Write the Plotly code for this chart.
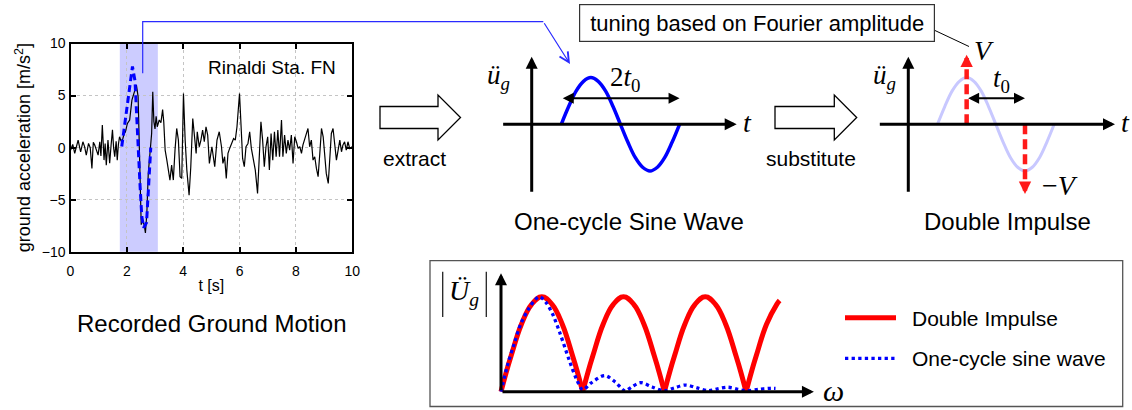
import plotly.graph_objects as go

W, H = 1132, 410
SANS = "Liberation Sans, Arial, Helvetica, sans-serif"
SERIF = "Liberation Serif, Times New Roman, serif"

# ---------------- data ----------------
# Rinaldi station, fault-normal component: time [s], ground acceleration [m/s^2]
rec_t = [0.00, 0.08, 0.15, 0.27, 0.36, 0.44, 0.50, 0.56, 0.64, 0.70, 0.76, 0.81, 0.86, 0.92, 0.98,
         1.04, 1.08, 1.13, 1.19, 1.23, 1.27, 1.33, 1.39, 1.44, 1.49, 1.53, 1.57, 1.62, 1.66, 1.70,
         1.74, 1.80, 1.86, 1.90, 1.95, 2.02, 2.10, 2.18, 2.25, 2.30, 2.34, 2.40, 2.46, 2.51, 2.57,
         2.62, 2.66, 2.71, 2.76, 2.82, 2.88, 2.92, 2.96, 3.00, 3.04, 3.08, 3.15, 3.21, 3.27, 3.31,
         3.36, 3.42, 3.47, 3.53, 3.59, 3.65, 3.71, 3.77, 3.83, 3.89, 3.95, 4.01, 4.07, 4.13, 4.21,
         4.27, 4.34, 4.40, 4.46, 4.50, 4.57, 4.63, 4.69, 4.75, 4.81, 4.87, 4.93, 4.97, 5.02, 5.12,
         5.20, 5.28, 5.36, 5.41, 5.47, 5.53, 5.59, 5.65, 5.71, 5.79, 5.85, 5.91, 6.00, 6.07, 6.11,
         6.17, 6.23, 6.30, 6.36, 6.42, 6.50, 6.56, 6.64, 6.70, 6.76, 6.82, 6.88, 6.94, 7.00, 7.06,
         7.12, 7.18, 7.24, 7.30, 7.36, 7.42, 7.49, 7.54, 7.60, 7.66, 7.72, 7.78, 7.84, 7.90, 7.96,
         8.02, 8.08, 8.14, 8.20, 8.25, 8.31, 8.37, 8.43, 8.49, 8.55, 8.61, 8.67, 8.73, 8.79, 8.85,
         8.91, 8.97, 9.02, 9.08, 9.15, 9.20, 9.26, 9.32, 9.38, 9.44, 9.50, 9.56, 9.62, 9.67, 9.73,
         9.79, 9.85, 9.91, 10.00]
rec_a = [-0.25, 0.30, -0.56, 0.72, -0.40, 0.56, 0.10, -0.72, 0.40, 0.00, -2.00, 0.50, 0.24, -0.30, -0.72,
         0.56, -0.80, 2.16, -1.20, 0.40, -1.70, 0.72, -1.50, 0.20, 1.70, 0.00, -0.88, 0.60, -1.20, 0.30,
         1.04, 0.60, 0.88, 1.30, 1.52, 2.32, 2.64, 4.56, 5.20, 5.50, 6.00, 4.90, -1.20, -7.40, -7.00,
         -7.50, -8.20, -6.30, -2.50, -0.56, 1.36, 5.37, 2.50, 1.80, 3.00, 2.00, 2.65, 2.40, 3.65, 2.50,
         -0.24, -1.20, -2.16, -3.12, -1.68, -3.12, -0.24, 1.84, 0.72, -2.80, -2.96, 5.20, 0.72, -2.16, -4.57,
         -1.84, 2.80, 0.72, -0.56, 1.52, 0.08, 0.72, 1.68, 0.56, 2.00, 1.20, -1.52, -0.80, 0.08, -1.84,
         0.72, 1.52, 0.08, -1.52, -0.88, -2.96, -0.56, -0.08, 0.40, 0.88, 0.72, 2.00, 5.20, 2.00, -1.04,
         -1.84, 0.08, 0.40, 1.52, -0.08, -1.52, -2.16, -4.40, -0.56, 2.48, 0.72, -1.84, 0.08, 1.04, -2.16,
         1.36, -1.20, 1.52, -0.88, 1.68, -0.88, 2.64, -0.88, 1.20, -0.56, 0.72, -0.24, 1.20, -1.52, 1.04,
         0.56, -0.08, 0.08, -0.56, 0.24, 0.72, 1.36, 1.84, 0.08, 0.72, -1.20, -0.88, -2.00, -2.80, -0.56,
         1.84, 1.04, -0.88, -2.48, -3.44, -1.20, 1.36, 1.84, 0.40, -1.20, -0.24, 0.72, -0.40, 0.24, 0.56,
         -0.24, 0.56, -0.08, 0.08]

# one-cycle pulse extracted from the record
pulse_t = [1.82, 1.93, 2.05, 2.20, 2.29, 2.37, 2.47, 2.53, 2.60, 2.70, 2.79, 2.85]
pulse_a = [0.1, 2.3, 5.2, 7.8, 6.4, 1.4, -3.7, -6.6, -7.7, -7.2, -3.4, 0.0]
pulse_window = [1.75, 3.1]

# schematic one-cycle sine wave (x: fraction of the cycle)
sine_x = [0.25, 0.3125, 0.375, 0.4375, 0.5, 0.5625, 0.625, 0.6875, 0.75,
          0.8125, 0.875, 0.9375, 1.0, 1.0625, 1.125, 1.1875, 1.25]
sine_y = [0, 0.38, 0.71, 0.92, 1, 0.92, 0.71, 0.38, 0,
          -0.38, -0.71, -0.92, -1, -0.92, -0.71, -0.38, 0]

# double impulse: times and amplitudes (+V, -V)
impulse_x = [0.5, 1.0]
impulse_v = [1.49, -1.49]

# Fourier amplitude spectra (omega in units of the double-impulse zero spacing)
di_w = [0, 0.0625, 0.125, 0.25, 0.375, 0.5, 0.625, 0.75, 0.875, 0.9375, 1, None,
        1, 1.0625, 1.125, 1.25, 1.375, 1.5, 1.625, 1.75, 1.875, 1.9375, 2, None,
        2, 2.0625, 2.125, 2.25, 2.375, 2.5, 2.625, 2.75, 2.875, 2.9375, 3, None,
        3, 3.0625, 3.125, 3.25, 3.375, 3.41]
di_amp = [0, 0.2, 0.38, 0.71, 0.92, 1, 0.92, 0.71, 0.38, 0.2, 0, None,
          0, 0.2, 0.38, 0.71, 0.92, 1, 0.92, 0.71, 0.38, 0.2, 0, None,
          0, 0.2, 0.38, 0.71, 0.92, 1, 0.92, 0.71, 0.38, 0.2, 0, None,
          0, 0.2, 0.38, 0.71, 0.92, 0.96]
sw_w = [0, 0.08, 0.16, 0.245, 0.33, 0.41, 0.47, 0.55, 0.63, 0.72, 0.84, 0.92, 1.0,
        1.1, 1.27, 1.4, 1.52, 1.6, 1.71, 1.85, 2.0, 2.12, 2.26, 2.4, 2.54, 2.65,
        2.78, 2.9, 3.0, 3.15, 3.3, 3.36]
sw_amp = [0, 0.28, 0.5, 0.72, 0.86, 0.96, 1.0, 0.94, 0.82, 0.62, 0.32, 0.14, 0.02,
          0.09, 0.17, 0.10, 0.01, 0.05, 0.095, 0.05, 0.01, 0.04, 0.07, 0.04, 0.01, 0.03,
          0.047, 0.025, 0.01, 0.025, 0.036, 0.035]


# ---------------- layout helpers ----------------
def px_x(x):
    return x / W


def px_y(y):
    return 1 - y / H


def panel(left, right, top, bottom, ox, oy, sx, sy):
    """Axis domains/ranges for a box given in pixels, origin (ox, oy), px per unit."""
    xa = dict(domain=[left / W, right / W], range=[(left - ox) / sx, (right - ox) / sx],
              visible=False, fixedrange=True)
    ya = dict(domain=[1 - bottom / H, 1 - top / H], range=[(oy - bottom) / sy, (oy - top) / sy],
              visible=False, fixedrange=True)
    return xa, ya


def note(xp, yp, text, size, family=SANS, xanchor="center", yanchor="middle", **kw):
    return dict(x=px_x(xp), y=px_y(yp), xref="paper", yref="paper", text=text, showarrow=False,
                font=dict(size=size, family=family, color="black"),
                xanchor=xanchor, yanchor=yanchor, **kw)


def arrow(x, y, ax, ay, ref, width, size, head=2, side="end", color="black"):
    return dict(x=x, y=y, ax=ax, ay=ay, xref="x" + ref, yref="y" + ref,
                axref="x" + ref, ayref="y" + ref, text="", showarrow=True,
                arrowhead=head, startarrowhead=head, arrowside=side,
                arrowwidth=width, arrowsize=size, startarrowsize=size,
                arrowcolor=color, standoff=0, startstandoff=0)


def pth(points, close=True):
    s = "M " + " L ".join(f"{px_x(x):.5f},{px_y(y):.5f}" for x, y in points)
    return s + (" Z" if close else "")


fig = go.Figure()

# ---------------- recorded ground motion ----------------
fig.add_trace(go.Scatter(x=rec_t, y=rec_a, mode="lines", xaxis="x", yaxis="y",
                         line=dict(color="black", width=1.2), showlegend=False))
fig.add_trace(go.Scatter(x=pulse_t, y=pulse_a, mode="lines", xaxis="x", yaxis="y",
                         line=dict(color="#0000ff", width=3, dash="7px,4px"), showlegend=False))

# ---------------- one-cycle sine wave ----------------
fig.add_trace(go.Scatter(x=sine_x, y=sine_y, mode="lines", xaxis="x2", yaxis="y2",
                         line=dict(color="#0000ff", width=3.5, shape="spline"), showlegend=False))

# ---------------- double impulse ----------------
fig.add_trace(go.Scatter(x=sine_x, y=sine_y, mode="lines", xaxis="x3", yaxis="y3",
                         line=dict(color="#c8c8ff", width=3, shape="spline"), showlegend=False))
for xi, vi in zip(impulse_x, impulse_v):
    stop = vi - (0.2 if vi > 0 else -0.2)
    fig.add_trace(go.Scatter(x=[xi, xi], y=[0, stop], mode="lines", xaxis="x3", yaxis="y3",
                             line=dict(color="#ff1a1a", width=4.5, dash="10px,5px"),
                             showlegend=False))

# ---------------- Fourier amplitude spectra ----------------
fig.add_trace(go.Scatter(x=di_w, y=di_amp, mode="lines", xaxis="x4", yaxis="y4",
                         line=dict(color="#ff0000", width=5, shape="spline", smoothing=1.2),
                         connectgaps=False, name="Double Impulse", showlegend=False))
fig.add_trace(go.Scatter(x=sw_w, y=sw_amp, mode="lines", xaxis="x4", yaxis="y4",
                         line=dict(color="#0000ff", width=3.3, dash="dot", shape="spline",
                                   smoothing=0.9),
                         name="One-cycle sine wave", showlegend=False))

# ---------------- axes ----------------
x2, y2 = panel(470, 770, 35, 215, 531.7, 124.3, 118.3, 46.7)
x3, y3 = panel(850, 1132, 35, 215, 908.3, 124.3, 116.7, 46.7)
x4, y4 = panel(480, 860, 262, 405, 501.0, 391.7, 81.7, 95.0)

frame = dict(showline=True, linecolor="black", linewidth=2.4, mirror="ticks",
             ticks="inside", ticklen=5, tickwidth=1.5, tickcolor="black",
             showgrid=True, gridcolor="#c4c4c4", griddash="dot", gridwidth=1,
             zeroline=False, automargin=False, fixedrange=True,
             tickfont=dict(size=14, family=SANS, color="black"))

fig.update_layout(
    xaxis=dict(domain=[70.5 / W, 352.2 / W], range=[0, 10], tickvals=[0, 2, 4, 6, 8, 10],
               ticklabelstandoff=5,
               title=dict(text="t\u00a0[s]", font=dict(size=16, family=SANS), standoff=2),
               **frame),
    yaxis=dict(domain=[1 - 251.7 / H, 1 - 43.5 / H], range=[-10, 10],
               tickvals=[-10, -5, 0, 5, 10],
               title=dict(text="ground acceleration [m/s<sup>2</sup>]",
                          font=dict(size=18, family=SANS), standoff=6),
               **frame),
    xaxis2=x2, yaxis2=y2, xaxis3=x3, yaxis3=y3, xaxis4=x4, yaxis4=y4,
)

# ---------------- shapes ----------------
shapes = [
    # pulse window
    dict(type="rect", xref="x", yref="y domain", x0=pulse_window[0], x1=pulse_window[1],
         y0=0, y1=1, fillcolor="#ccccff", line=dict(width=0), layer="below"),
    # connector from the record to the sine wave
    dict(type="path", xref="paper", yref="paper",
         path=pth([(142.7, 73.3), (142.7, 21.7), (543.3, 21.7)], close=False),
         line=dict(color="#2a2aff", width=1.2)),
    # block arrows
    dict(type="path", xref="paper", yref="paper",
         path=pth([(380, 106.5), (438, 106.5), (438, 95), (460.5, 117.5), (438, 140),
                   (438, 128.5), (380, 128.5)]),
         line=dict(color="black", width=1.3), fillcolor="white"),
    dict(type="path", xref="paper", yref="paper",
         path=pth([(775, 106.5), (834.3, 106.5), (834.3, 95), (856.7, 117.5), (834.3, 140),
                   (834.3, 128.5), (775, 128.5)]),
         line=dict(color="black", width=1.3), fillcolor="white"),
    # leader from the tuning note to V
    dict(type="line", xref="paper", yref="paper", x0=px_x(935), y0=px_y(30.5),
         x1=px_x(969), y1=px_y(46.5), line=dict(color="black", width=1)),
    # spectrum panel frame
    dict(type="rect", xref="paper", yref="paper", x0=px_x(430), y0=px_y(406.5),
         x1=px_x(1122.7), y1=px_y(260.7), line=dict(color="#555555", width=1.3)),
    # |.| delimiters
    dict(type="line", xref="paper", yref="paper", x0=px_x(442.7), x1=px_x(442.7),
         y0=px_y(271.7), y1=px_y(317), line=dict(color="#222222", width=1.3)),
    dict(type="line", xref="paper", yref="paper", x0=px_x(486.3), x1=px_x(486.3),
         y0=px_y(271.7), y1=px_y(317), line=dict(color="#222222", width=1.3)),
    # legend keys
    dict(type="line", xref="paper", yref="paper", x0=px_x(845), x1=px_x(896),
         y0=px_y(317.7), y1=px_y(317.7), line=dict(color="#ff0000", width=5)),
    dict(type="line", xref="paper", yref="paper", x0=px_x(845), x1=px_x(896),
         y0=px_y(358.3), y1=px_y(358.3), line=dict(color="#0000ff", width=3.3, dash="dot")),
]
fig.update_layout(shapes=shapes)

# ---------------- annotations ----------------
ann = [
    note(338, 67, "Rinaldi Sta. FN", 19, xanchor="right"),
    note(211, 323, "Recorded Ground Motion", 24),
    note(414, 158, "extract", 21),
    note(811, 158, "substitute", 21),
    note(629, 221, "One-cycle Sine Wave", 24),
    note(1007, 221, "Double Impulse", 24),
    note(910, 318, "Double Impulse", 21, xanchor="left"),
    note(910, 358, "One-cycle sine wave", 21, xanchor="left"),
    note(756.7, 22.8, "tuning based on Fourier amplitude", 22,
         bordercolor="#333333", borderwidth=1.2, borderpad=1, bgcolor="white",
         width=352, height=34),
    # math labels
    note(498, 77, "<i>ü</i><sub><i>g</i></sub>", 27, family=SERIF),
    note(747, 122, "<i>t</i>", 28, family=SERIF),
    note(625, 79, "2<i>t</i><sub>0</sub>", 27, family=SERIF),
    note(884, 77, "<i>ü</i><sub><i>g</i></sub>", 27, family=SERIF),
    note(1125, 122, "<i>t</i>", 28, family=SERIF),
    note(1001, 80, "<i>t</i><sub>0</sub>", 27, family=SERIF),
    note(984, 50, "<i>V</i>", 28, family=SERIF),
    note(1060, 186, "−<i>V</i>", 28, family=SERIF),
    note(464, 292, "<i>Ü</i><sub><i>g</i></sub>", 28, family=SERIF),
    note(833, 390, "<i>ω</i>", 30, family=SERIF),
    # connector arrow head
    dict(x=px_x(570), y=px_y(64), xref="paper", yref="paper", ax=543.3 - 570, ay=21.7 - 64,
         text="", showarrow=True, arrowhead=5, arrowsize=1.6, arrowwidth=1.2,
         arrowcolor="#2a2aff", standoff=0),
    # sine panel axes and 2t0
    arrow(1.733, 0, -0.254, 0, "2", 3, 0.8),
    arrow(0, 1.447, 0, -1.477, "2", 3, 0.8),
    arrow(1.25, 0.56, 0.25, 0.56, "2", 2, 1.1, side="end+start"),
    # impulse panel axes and t0
    arrow(1.771, 0, -0.257, 0, "3", 3, 0.8),
    arrow(0, 1.447, 0, -1.477, "3", 3, 0.8),
    arrow(1.0, 0.56, 0.5, 0.56, "3", 2, 1.1, side="end+start"),
    # spectrum axes
    arrow(3.83, 0, 0, 0, "4", 3, 0.8),
    arrow(0, 1.246, 0, 0, "4", 3, 0.8),
]
# impulse arrow heads
for xi, vi in zip(impulse_x, impulse_v):
    base = vi - (0.28 if vi > 0 else -0.28)
    ann.append(arrow(xi, vi, xi, base, "3", 4.5, 0.55, color="#ff1a1a"))

fig.update_layout(
    annotations=ann,
    width=W, height=H, autosize=False,
    margin=dict(l=0, r=0, t=0, b=0),
    paper_bgcolor="white", plot_bgcolor="white",
    font=dict(family=SANS, color="black"),
    showlegend=False,
)

fig.write_html("out.html")
